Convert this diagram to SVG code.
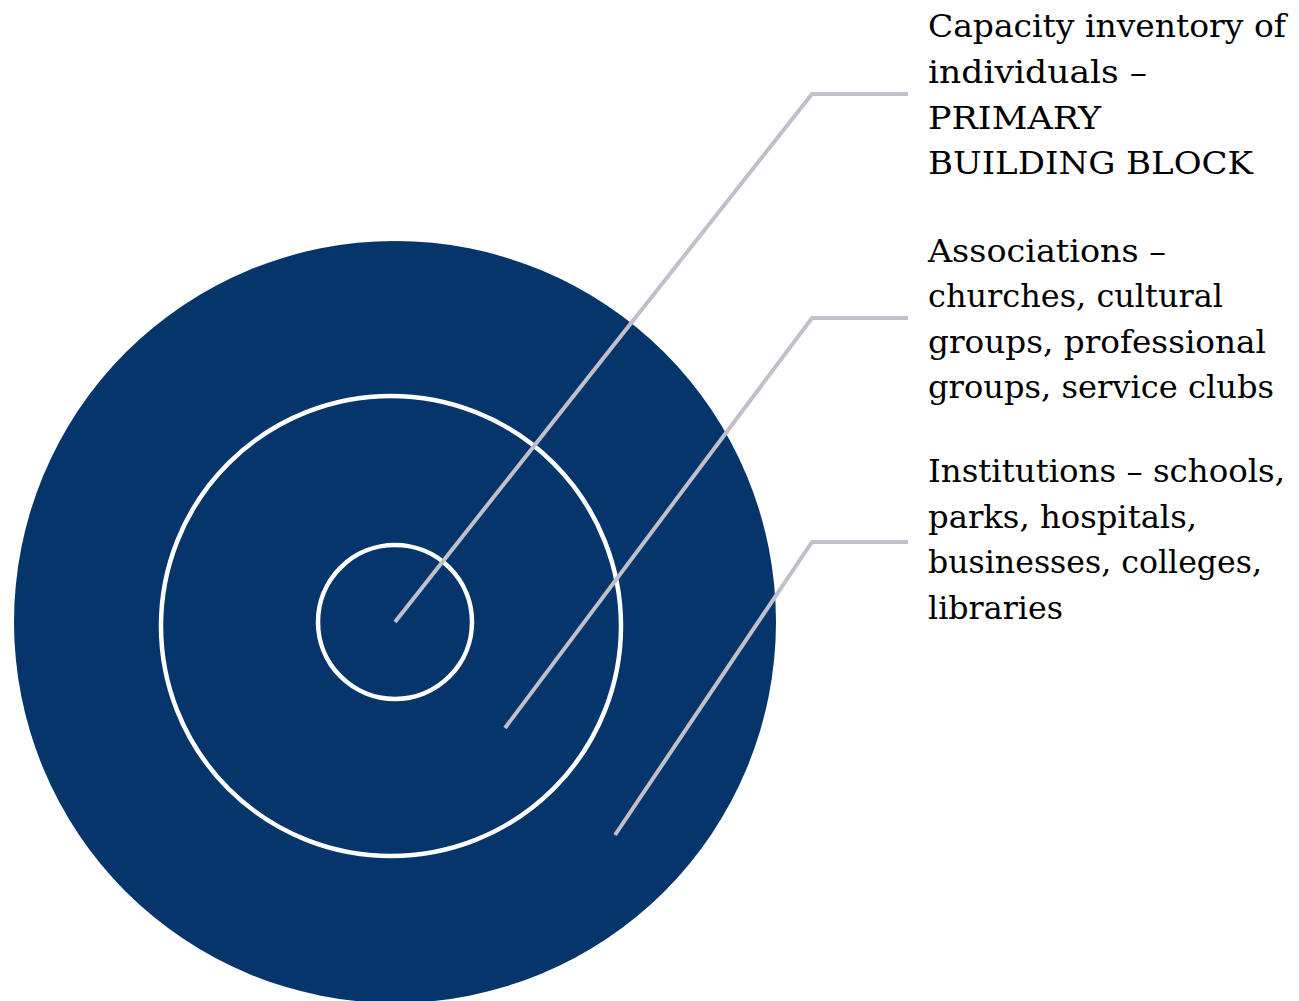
<svg xmlns="http://www.w3.org/2000/svg" width="1299" height="1001" viewBox="0 0 1299 1001">
<style>
.ring{fill:none;stroke:#ffffff;stroke-width:4.5}
.lead{fill:none;stroke:#bfc0c9;stroke-width:4}
.lbl{font-family:"DejaVu Serif","Liberation Serif",serif;font-size:32px;fill:#000000}
</style>
<rect width="1299" height="1001" fill="#ffffff"/>
<g id="outer"><circle cx="395" cy="622" r="381" fill="#06356b"/></g>
<g id="middle"><circle class="ring" cx="391" cy="626" r="230"/></g>
<g id="inner"><circle class="ring" cx="395" cy="622" r="77"/></g>
<g id="connectors">
<polyline class="lead" points="395,622 812,94 908,94"/>
<polyline class="lead" points="505,728 812,318 908,318"/>
<polyline class="lead" points="615,835 812,542 908,542"/>
</g>
<g id="label1" class="lbl">
<text x="928" y="37" textLength="358" lengthAdjust="spacingAndGlyphs">Capacity inventory of</text>
<text x="928" y="83" textLength="219" lengthAdjust="spacingAndGlyphs">individuals –</text>
<text x="928" y="129" textLength="173" lengthAdjust="spacingAndGlyphs">PRIMARY</text>
<text x="928" y="174" textLength="325" lengthAdjust="spacingAndGlyphs">BUILDING BLOCK</text>
</g>
<g id="label2" class="lbl">
<text x="928" y="262" textLength="238" lengthAdjust="spacingAndGlyphs">Associations –</text>
<text x="928" y="307" textLength="295" lengthAdjust="spacingAndGlyphs">churches, cultural</text>
<text x="928" y="353" textLength="338" lengthAdjust="spacingAndGlyphs">groups, professional</text>
<text x="928" y="398" textLength="346" lengthAdjust="spacingAndGlyphs">groups, service clubs</text>
</g>
<g id="label3" class="lbl">
<text x="928" y="482" textLength="357" lengthAdjust="spacingAndGlyphs">Institutions – schools,</text>
<text x="928" y="528" textLength="269" lengthAdjust="spacingAndGlyphs">parks, hospitals,</text>
<text x="928" y="573" textLength="334" lengthAdjust="spacingAndGlyphs">businesses, colleges,</text>
<text x="928" y="619" textLength="135" lengthAdjust="spacingAndGlyphs">libraries</text>
</g>
</svg>
